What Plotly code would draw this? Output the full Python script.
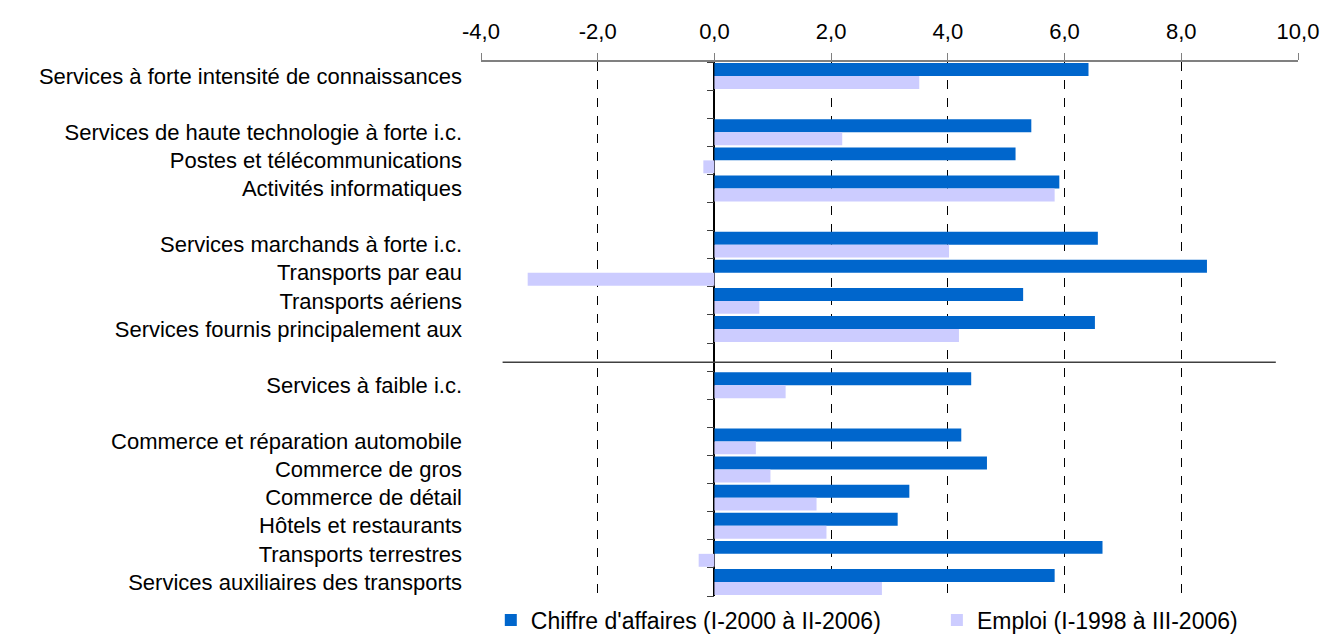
import plotly.graph_objects as go

# catégories (lignes vides = séparateurs entre groupes)
categories = [
    "Services à forte intensité de connaissances",
    "",
    "Services de haute technologie à forte i.c.",
    "Postes et télécommunications",
    "Activités informatiques",
    "",
    "Services marchands à forte i.c.",
    "Transports par eau",
    "Transports aériens",
    "Services fournis principalement aux",
    "",
    "Services à faible i.c.",
    "",
    "Commerce et réparation automobile",
    "Commerce de gros",
    "Commerce de détail",
    "Hôtels et restaurants",
    "Transports terrestres",
    "Services auxiliaires des transports",
]

chiffre_affaires = [6.41, None, 5.43, 5.16, 5.91, None, 6.57, 8.44, 5.29, 6.52, None,
                    4.40, None, 4.23, 4.67, 3.34, 3.14, 6.65, 5.83]
emploi = [3.51, None, 2.19, -0.19, 5.83, None, 4.02, -3.20, 0.77, 4.19, None,
          1.22, None, 0.71, 0.96, 1.75, 1.92, -0.27, 2.87]

x_ticks = [-4, -2, 0, 2, 4, 6, 8, 10]
x_tick_labels = ["-4,0", "-2,0", "0,0", "2,0", "4,0", "6,0", "8,0", "10,0"]

FONT = "Liberation Sans, Arial, sans-serif"
rows = list(range(len(categories)))
n = len(categories)

fig = go.Figure()
fig.add_trace(go.Bar(y=rows, x=chiffre_affaires, orientation="h",
                     name="Chiffre d'affaires (I-2000 à II-2006)", legend="legend",
                     marker=dict(color="#0066CC", line=dict(width=0))))
fig.add_trace(go.Bar(y=rows, x=emploi, orientation="h",
                     name="Emploi (I-1998 à III-2006)", legend="legend2",
                     marker=dict(color="#CCCCFF", line=dict(width=0))))
# trace vide pour porter l'axe des catégories placé en x=0
fig.add_trace(go.Scatter(x=[], y=[], yaxis="y2", showlegend=False, hoverinfo="skip"))

# trait de séparation entre les deux grands groupes
fig.add_shape(type="line", xref="x", yref="y", x0=-3.63, x1=9.62, y0=10.18, y1=10.18,
              line=dict(color="#404040", width=1.5))

leg = dict(orientation="h", xanchor="left", y=-0.045, yanchor="middle",
           font=dict(size=23), itemclick=False, bgcolor="rgba(0,0,0,0)")

fig.update_layout(
    width=1321, height=637,
    margin=dict(l=481, r=23, t=62, b=41, autoexpand=False),
    paper_bgcolor="white", plot_bgcolor="white",
    barmode="group", bargap=0.08, bargroupgap=0,
    font=dict(family=FONT, size=22, color="black"),
    showlegend=True,
    legend=dict(leg, x=0.012),
    legend2=dict(leg, x=0.558),
    xaxis=dict(side="top", range=[-4, 10], tickvals=x_ticks, ticktext=x_tick_labels,
               showgrid=True, gridcolor="black", gridwidth=1, griddash="dash",
               zeroline=True, zerolinecolor="black", zerolinewidth=1.5,
               showline=True, linecolor="#808080", linewidth=2,
               ticks="outside", ticklen=7, tickcolor="#808080", tickwidth=1,
               ticklabelstandoff=5, ticklabeloverflow="allow",
               tickfont=dict(size=22), fixedrange=True),
    yaxis=dict(range=[n - 0.5, -0.5], tickvals=rows, ticktext=categories,
               showgrid=False, zeroline=False, showline=False, ticks="",
               ticklabelstandoff=18, tickfont=dict(size=22), fixedrange=True),
    yaxis2=dict(overlaying="y", anchor="free", position=4 / 14, side="left",
                range=[n - 0.5, -0.5], tickvals=[i - 0.5 for i in range(n + 1)],
                ticks="outside", ticklen=7, tickcolor="#404040", tickwidth=1,
                showticklabels=False, showgrid=False, zeroline=False, showline=False,
                fixedrange=True),
)

# la page sans marge, pour que la figure occupe toute la fenêtre
fig.write_html("out.html", config={"displayModeBar": False},
               post_script="document.body.style.margin='0';")
